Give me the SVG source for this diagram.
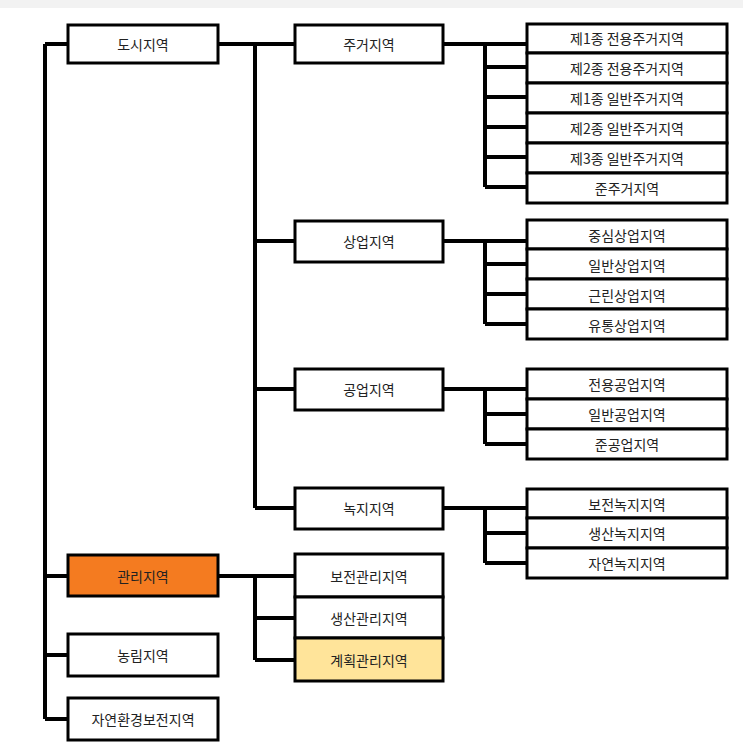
<svg xmlns="http://www.w3.org/2000/svg" width="743" height="753" viewBox="0 0 743 753">
<style>
.b rect{fill:#fff;stroke:#000;stroke-width:3}
.b text{font-family:"Noto Sans CJK KR",sans-serif;font-size:14px;text-anchor:middle;dominant-baseline:central;fill:#222}
.c{stroke:#000;stroke-width:4;fill:none}
</style>
<rect x="0" y="0" width="743" height="753" fill="#fff"/>
<rect x="0" y="0" width="743" height="8" fill="#f2f2f2"/>
<g id="connectors" class="c">
<path d="M45 44V719M45 44H68M45 576H68M45 655H68M45 719H68"/>
<path d="M218 44H295M255 44V508M255 241H295M255 389H295M255 508H295"/>
<path d="M218 576H295M255 576V660M255 618H295M255 660H295"/>
<path d="M443 44H527M485 44V187M485 67H527M485 97H527M485 127H527M485 157H527M485 187H527"/>
<path d="M443 241H527M485 241V324M485 264H527M485 294H527M485 324H527"/>
<path d="M443 389H527M485 389V444M485 414H527M485 444H527"/>
<path d="M443 508H527M485 508V563M485 533H527M485 563H527"/>
</g>
<g id="n1" class="b"><rect x="68" y="25" width="150" height="38"/><text x="143" y="44">도시지역</text></g>
<g id="n2" class="b"><rect x="68" y="555" width="150" height="41" style="fill:#F47B20"/><text x="143" y="576">관리지역</text></g>
<g id="n3" class="b"><rect x="68" y="634" width="150" height="42"/><text x="143" y="655">농림지역</text></g>
<g id="n4" class="b"><rect x="68" y="698" width="150" height="42"/><text x="143" y="719">자연환경보전지역</text></g>
<g id="n5" class="b"><rect x="295" y="25" width="148" height="38"/><text x="369" y="44">주거지역</text></g>
<g id="n6" class="b"><rect x="295" y="221" width="148" height="41"/><text x="369" y="241">상업지역</text></g>
<g id="n7" class="b"><rect x="295" y="369" width="148" height="41"/><text x="369" y="389">공업지역</text></g>
<g id="n8" class="b"><rect x="295" y="488" width="148" height="41"/><text x="369" y="508">녹지지역</text></g>
<g id="n9" class="b"><rect x="295" y="554" width="148" height="43"/><text x="369" y="576">보전관리지역</text></g>
<g id="n10" class="b"><rect x="295" y="597" width="148" height="41"/><text x="369" y="618">생산관리지역</text></g>
<g id="n11" class="b"><rect x="295" y="638" width="148" height="43" style="fill:#FFE49A"/><text x="369" y="660">계획관리지역</text></g>
<g id="n12" class="b"><rect x="527" y="24" width="200" height="29"/><text x="627" y="38">제1종 전용주거지역</text></g>
<g id="n13" class="b"><rect x="527" y="53" width="200" height="30"/><text x="627" y="68">제2종 전용주거지역</text></g>
<g id="n14" class="b"><rect x="527" y="83" width="200" height="30"/><text x="627" y="98">제1종 일반주거지역</text></g>
<g id="n15" class="b"><rect x="527" y="113" width="200" height="30"/><text x="627" y="128">제2종 일반주거지역</text></g>
<g id="n16" class="b"><rect x="527" y="143" width="200" height="30"/><text x="627" y="158">제3종 일반주거지역</text></g>
<g id="n17" class="b"><rect x="527" y="173" width="200" height="30"/><text x="627" y="188">준주거지역</text></g>
<g id="n18" class="b"><rect x="527" y="220" width="200" height="29"/><text x="627" y="235">중심상업지역</text></g>
<g id="n19" class="b"><rect x="527" y="249" width="200" height="30"/><text x="627" y="265">일반상업지역</text></g>
<g id="n20" class="b"><rect x="527" y="279" width="200" height="30"/><text x="627" y="295">근린상업지역</text></g>
<g id="n21" class="b"><rect x="527" y="309" width="200" height="30"/><text x="627" y="325">유통상업지역</text></g>
<g id="n22" class="b"><rect x="527" y="369" width="200" height="30"/><text x="627" y="384">전용공업지역</text></g>
<g id="n23" class="b"><rect x="527" y="399" width="200" height="30"/><text x="627" y="414">일반공업지역</text></g>
<g id="n24" class="b"><rect x="527" y="429" width="200" height="30"/><text x="627" y="444">준공업지역</text></g>
<g id="n25" class="b"><rect x="527" y="489" width="200" height="29"/><text x="627" y="504">보전녹지지역</text></g>
<g id="n26" class="b"><rect x="527" y="518" width="200" height="30"/><text x="627" y="533">생산녹지지역</text></g>
<g id="n27" class="b"><rect x="527" y="548" width="200" height="30"/><text x="627" y="563">자연녹지지역</text></g>
</svg>
